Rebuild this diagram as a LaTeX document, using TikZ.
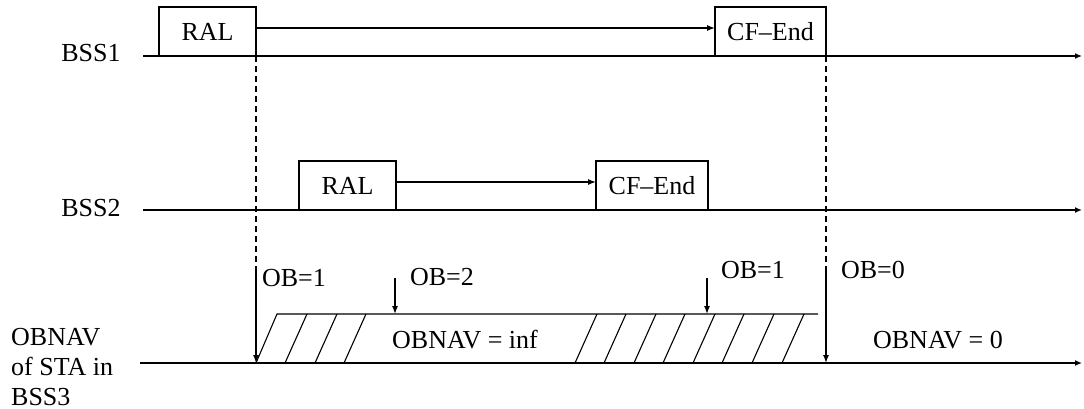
\documentclass[tikz,border=0pt]{standalone}
\usepackage{fontspec}
\setmainfont{Liberation Serif}
\usetikzlibrary{arrows.meta,calc}
\begin{document}
\begin{tikzpicture}[x=1pt,y=-1pt,
  lbl/.style={font=\fontsize{26}{30}\selectfont, inner sep=0pt},
  frm/.style={draw, line width=1.3pt, inner sep=0pt, outer sep=0pt, anchor=north west,
              minimum height=49pt, font=\fontsize{26}{30}\selectfont},
  tl/.style={line width=1.5pt, -{Latex[length=7pt,width=6pt]}},
  tip/.style={line width=1.3pt, -{Latex[length=8pt,width=6pt]}},
  dsh/.style={line width=1.2pt, dash pattern=on 6pt off 4pt},
  hatch/.style={line width=1.1pt}]
\fill[white] (0,0) rectangle (1084,409);
\useasboundingbox (0,0) rectangle (1084,409);

% row labels
\node[lbl] (L1) at (91,53) {BSS1};
\node[lbl] (L2) at (91,208) {BSS2};
\node[lbl, align=left, anchor=west] (L3) at (11,367) {OBNAV\\of STA in\\BSS3};

% timelines
\coordinate (b1s) at (143,56);  \coordinate (b1e) at (1082,56);
\coordinate (b2s) at (143,210); \coordinate (b2e) at (1082,210);
\coordinate (b3s) at (140,363); \coordinate (b3e) at (1082,363);
\draw[tl] (b1s) -- (b1e);
\draw[tl] (b2s) -- (b2e);
\draw[tl] (b3s) -- (b3e);

% frames
\node[frm, minimum width=97pt] (RAL1) at (159,7) {RAL};
\node[frm, minimum width=111pt] (CF1) at (715,7) {CF--End};
\node[frm, minimum width=97pt] (RAL2) at (299,161) {RAL};
\node[frm, minimum width=112pt] (CF2) at (596,161) {CF--End};

\draw[tip] ([yshift=3.5pt]RAL1.east) -- ([yshift=3.5pt]CF1.west);
\draw[tip] ([yshift=3.5pt]RAL2.east) -- ([yshift=3.5pt]CF2.west);

% vertical markers
\coordinate (d1) at (256,270); \coordinate (s1) at (256,363);
\coordinate (d2) at (826,270); \coordinate (s2) at (826,363);
\draw[dsh] (RAL1.south east) -- (d1);
\draw[tip] (d1) -- (s1);
\draw[dsh] (CF1.south east) -- (d2);
\draw[tip] (d2) -- (s2);

% OBNAV region
\coordinate (h1) at (277,314); \coordinate (h2) at (818,314);
\draw[hatch] (s1) -- (h1) -- (h2);
\foreach \x in {285,315,344,575,604,634,663,693,722,752,782}
  \draw[hatch] (\x,363) -- (\x+22,314);

\coordinate (o2s) at (395,278); \coordinate (o2e) at (395,314);
\coordinate (o1s) at (707,278); \coordinate (o1e) at (707,314);
\draw[tip] (o2s) -- (o2e);
\draw[tip] (o1s) -- (o1e);

% labels
\node[lbl] (ob1a) at (294,278) {OB=1};
\node[lbl] (ob2) at (442,277) {OB=2};
\node[lbl] (ob1b) at (753,270) {OB=1};
\node[lbl] (ob0) at (873,270) {OB=0};
\node[lbl] (navinf) at (465,340) {OBNAV = inf};
\node[lbl] (nav0) at (938,340) {OBNAV = 0};
\end{tikzpicture}
\end{document}
